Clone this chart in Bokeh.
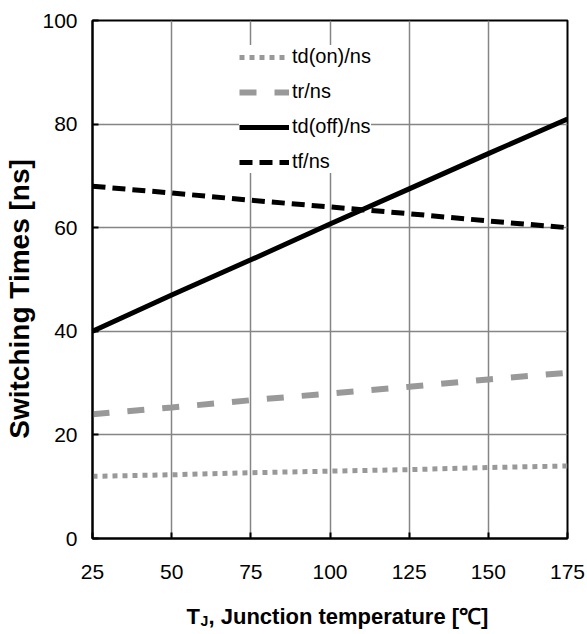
from bokeh.plotting import figure
from bokeh.layouts import column
from bokeh.models import Range1d, FixedTicker, Legend, LegendItem
from bokeh.core.properties import value
from bokeh.embed import file_html
from bokeh.resources import INLINE

# ---- data ----
temps = [25, 50, 75, 100, 125, 150, 175]
td_on = [12.0, 12.3, 12.7, 13.0, 13.3, 13.7, 14.0]
tr = [24.0, 25.3, 26.7, 28.0, 29.3, 30.7, 32.0]
td_off = [40.0, 47.0, 53.8, 60.7, 67.5, 74.3, 81.0]
tf = [68.0, 66.7, 65.3, 64.0, 62.7, 61.3, 60.0]
series_names = ["td(on)/ns", "tr/ns", "td(off)/ns", "tf/ns"]
x_ticks = [25, 50, 75, 100, 125, 150, 175]
y_ticks = [0, 20, 40, 60, 80, 100]
y_title = "Switching Times [ns]"
x_title_main = "T"
x_title_sub = "J"
x_title_rest = ", Junction temperature [\u2103]"

FONT = "Liberation Sans"

p = figure(width=587, height=590, output_backend="svg", toolbar_location=None,
           x_range=Range1d(25, 175), y_range=Range1d(0, 100),
           min_border_left=92, min_border_right=20, min_border_top=20,
           min_border_bottom=52)
p.background_fill_color = "white"
p.border_fill_color = "white"
p.outline_line_color = "black"
p.outline_line_width = 2

for ax in (p.xaxis[0], p.yaxis[0]):
    ax.axis_line_color = "black"
    ax.axis_line_width = 2
    ax.major_tick_in = 6
    ax.major_tick_out = 0
    ax.major_tick_line_color = "black"
    ax.major_tick_line_width = 2
    ax.minor_tick_line_color = None
    ax.major_label_text_font = FONT
    ax.major_label_text_font_size = "21px"
    ax.major_label_text_color = "black"

p.xaxis[0].ticker = FixedTicker(ticks=x_ticks)
p.yaxis[0].ticker = FixedTicker(ticks=y_ticks)
p.xaxis[0].major_label_standoff = 26
p.yaxis[0].major_label_standoff = 15

p.yaxis[0].axis_label = y_title + "\u00a0" * 5
p.yaxis[0].axis_label_text_font = FONT
p.yaxis[0].axis_label_text_font_style = "bold"
p.yaxis[0].axis_label_text_font_size = "28px"
p.yaxis[0].axis_label_text_color = "black"
p.yaxis[0].axis_label_standoff = 4

for g in (p.xgrid[0], p.ygrid[0]):
    g.grid_line_color = "#858585"
    g.grid_line_width = 1.5
p.xgrid[0].ticker = FixedTicker(ticks=x_ticks)
p.ygrid[0].ticker = FixedTicker(ticks=y_ticks)

r1 = p.line(temps, td_on, line_color="#999999", line_width=5, line_dash="5 5")
r2 = p.line(temps, tr, line_color="#999999", line_width=6, line_dash="17 18")
r3 = p.line(temps, td_off, line_color="black", line_width=5)
r4 = p.line(temps, tf, line_color="black", line_width=5, line_dash="13 7")

legend = Legend(items=[LegendItem(label=n, renderers=[r]) for n, r in
                       zip(series_names, [r1, r2, r3, r4])],
                location=(147, 365))
legend.background_fill_color = "white"
legend.background_fill_alpha = 1.0
legend.border_line_color = None
legend.padding = 10
legend.spacing = 12
legend.glyph_width = 50
legend.glyph_height = 22
legend.label_height = 22
legend.label_standoff = 3
legend.label_text_font = FONT
legend.label_text_font_size = "20px"
legend.label_text_color = "black"
legend.margin = 0
p.add_layout(legend, "center")

# x-axis title strip (with subscript J); its frame lines up with the main frame
t = figure(width=587, height=44, output_backend="svg", toolbar_location=None,
           x_range=Range1d(92, 567), y_range=Range1d(0, 44),
           x_axis_location=None, y_axis_location=None,
           min_border_left=92, min_border_right=20,
           min_border_top=0, min_border_bottom=0)
t.grid.visible = False
t.outline_line_color = None
t.background_fill_color = "white"
t.border_fill_color = "white"
t.text(x=[186], y=[18], text=[x_title_main], text_font=value(FONT),
       text_font_style="bold", text_font_size="22px", text_color="black",
       text_baseline="alphabetic", text_align="left")
t.text(x=[200], y=[14], text=[x_title_sub], text_font=value(FONT),
       text_font_style="bold", text_font_size="14px", text_color="black",
       text_baseline="alphabetic", text_align="left")
t.text(x=[208], y=[18], text=[x_title_rest], text_font=value(FONT),
       text_font_style="bold", text_font_size="22px", text_color="black",
       text_baseline="alphabetic", text_align="left")

layout = column(p, t, spacing=0)
open("out.html", "w").write(file_html(layout, INLINE))
